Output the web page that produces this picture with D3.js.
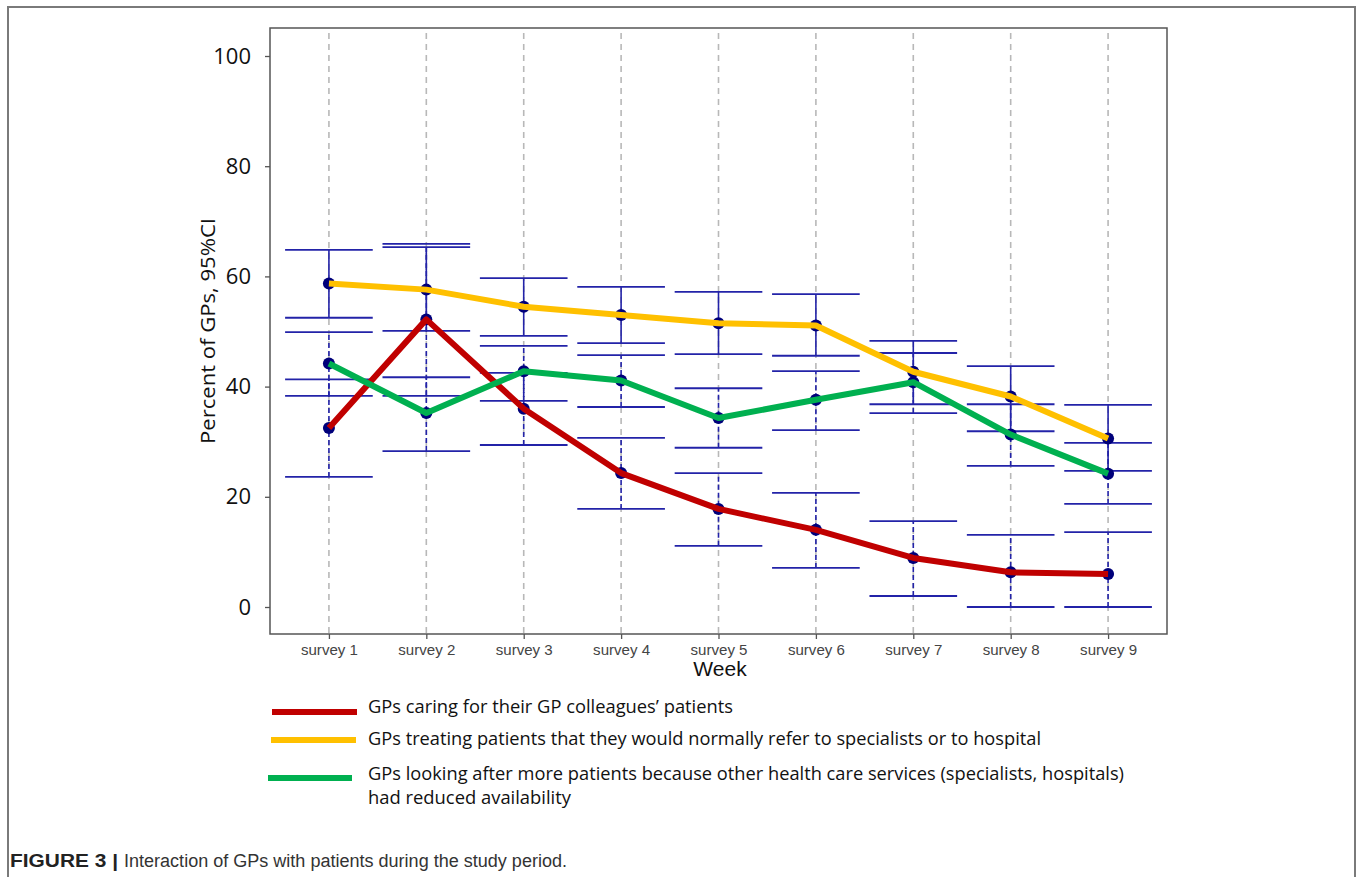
<!DOCTYPE html>
<html>
<head>
<meta charset="utf-8">
<script src="https://cdn.jsdelivr.net/npm/d3@7"></script>
<style>
  body { margin: 0; background: #fff; }
  svg { display: block; }
</style>
</head>
<body>
<svg id="chart"></svg>
<script>
// survey categories
const surveys = ["survey 1", "survey 2", "survey 3", "survey 4", "survey 5", "survey 6", "survey 7", "survey 8", "survey 9"]
const yTicks = [0, 20, 40, 60, 80, 100]

// percent of GPs, with 95% CI bounds
const colleagues = [32.5, 52.2, 36.0, 24.3, 17.8, 14.0, 8.9, 6.3, 6.0]
const colleaguesLow = [23.6, 38.3, 29.4, 17.8, 11.1, 7.1, 2.0, 0, 0]
const colleaguesHigh = [41.3, 65.9, 42.5, 30.7, 24.3, 20.7, 15.6, 13.1, 13.6]

const treating = [58.7, 57.6, 54.5, 53.0, 51.5, 51.1, 42.7, 38.2, 30.6]
const treatingLow = [52.5, 50.1, 49.2, 47.9, 45.9, 45.6, 36.8, 31.9, 24.7]
const treatingHigh = [64.8, 65.3, 59.7, 58.1, 57.2, 56.8, 48.3, 43.7, 36.7]

const lookingAfter = [44.2, 35.2, 42.8, 41.1, 34.3, 37.6, 40.8, 31.3, 24.2]
const lookingAfterLow = [38.3, 28.3, 37.4, 36.3, 28.9, 32.1, 35.2, 25.6, 18.7]
const lookingAfterHigh = [49.9, 41.7, 47.4, 45.7, 39.7, 42.8, 46.1, 36.8, 29.8]

const legendLabels = [
    ["GPs caring for their GP colleagues\u2019 patients"],
    ["GPs treating patients that they would normally refer to specialists or to hospital"],
    ["GPs looking after more patients because other health care services (specialists, hospitals)", "had reduced availability"]
]

const W = 1360, H = 877
const colors = ["#c00000", "#ffc000", "#00b050"]
const navy = "#00007a"
const barBlue = "#2323a8"

const svg = d3.select("#chart").attr("width", W).attr("height", H)

// outer figure frame
svg.append("path")
    .attr("d", "M8,880 V7 H1355 V880")
    .attr("fill", "none")
    .attr("stroke", "#7a7a7a")
    .attr("stroke-width", 2)

const plot = {left: 270, right: 1167, top: 28, bottom: 634}

const x = d3.scalePoint()
    .domain(surveys)
    .range([plot.left, plot.right])
    .padding(0.605)

const y = d3.scaleLinear()
    .domain([0, 100])
    .range([607, 56])

// vertical dashed grid
svg.append("g")
    .selectAll("line")
    .data(surveys)
    .join("line")
    .attr("x1", d => x(d)).attr("x2", d => x(d))
    .attr("y1", plot.top + 5).attr("y2", plot.bottom)
    .attr("stroke", "#b8b8b8")
    .attr("stroke-width", 1.6)
    .attr("stroke-dasharray", "6,5")

const series = [
    {vals: colleagues, lo: colleaguesLow, hi: colleaguesHigh, color: colors[0], dashed: true},
    {vals: treating, lo: treatingLow, hi: treatingHigh, color: colors[1], dashed: false},
    {vals: lookingAfter, lo: lookingAfterLow, hi: lookingAfterHigh, color: colors[2], dashed: true}
]

const half = x.step() * 0.45

// error bars
const eb = svg.append("g")
series.forEach(s => {
    surveys.forEach((d, i) => {
        eb.append("line")
            .attr("x1", x(d)).attr("x2", x(d))
            .attr("y1", y(s.lo[i])).attr("y2", y(s.hi[i]))
            .attr("stroke", barBlue)
            .attr("stroke-width", 1.6)
            .attr("stroke-dasharray", s.dashed ? "5,3" : null)
        ;[s.lo[i], s.hi[i]].forEach(v => {
            eb.append("line")
                .attr("x1", x(d) - half).attr("x2", x(d) + half)
                .attr("y1", y(v)).attr("y2", y(v))
                .attr("stroke", barBlue)
                .attr("stroke-width", 1.8)
        })
    })
})

// points
series.forEach(s => {
    svg.append("g")
        .selectAll("circle")
        .data(s.vals)
        .join("circle")
        .attr("cx", (d, i) => x(surveys[i]))
        .attr("cy", d => y(d))
        .attr("r", 6)
        .attr("fill", navy)
})

const line = d3.line()
    .x((d, i) => x(surveys[i]))
    .y(d => y(d))

series.forEach(s => {
    svg.append("path")
        .datum(s.vals)
        .attr("d", line)
        .attr("fill", "none")
        .attr("stroke", s.color)
        .attr("stroke-width", 6)
        .attr("stroke-linejoin", "round")
})

// plot frame
svg.append("rect")
    .attr("x", plot.left).attr("y", plot.top)
    .attr("width", plot.right - plot.left).attr("height", plot.bottom - plot.top)
    .attr("fill", "none")
    .attr("stroke", "#555")
    .attr("stroke-width", 1.5)

// y axis
const yAxis = svg.append("g")
    .attr("transform", `translate(${plot.left},0)`)
    .call(d3.axisLeft(y).tickValues(yTicks).tickSize(5).tickPadding(14))
yAxis.select(".domain").remove()
yAxis.selectAll(".tick line").attr("stroke", "#555").attr("stroke-width", 1.3)
yAxis.selectAll("text")
    .attr("font-family", "Open Sans, Liberation Sans, sans-serif")
    .attr("font-size", 22)
    .attr("fill", "#111")

// x axis
const xAxis = svg.append("g")
    .attr("transform", `translate(0,${plot.bottom})`)
    .call(d3.axisBottom(x).tickSize(5).tickPadding(5))
xAxis.select(".domain").remove()
xAxis.selectAll(".tick line").attr("stroke", "#555").attr("stroke-width", 1.3)
xAxis.selectAll("text")
    .attr("font-family", "Liberation Sans, sans-serif")
    .attr("font-size", 15)
    .attr("fill", "#444")
    .attr("textLength", 57)
    .attr("lengthAdjust", "spacingAndGlyphs")

svg.append("text")
    .attr("x", 720).attr("y", 676)
    .attr("text-anchor", "middle")
    .attr("font-family", "Liberation Sans, Arial, sans-serif")
    .attr("font-size", 21)
    .attr("fill", "#111")
    .text("Week")

svg.append("text")
    .attr("transform", "translate(215,331) rotate(-90)")
    .attr("text-anchor", "middle")
    .attr("font-family", "Open Sans, Liberation Sans, sans-serif")
    .attr("font-size", 20)
    .attr("fill", "#111")
    .attr("textLength", 226)
    .attr("lengthAdjust", "spacingAndGlyphs")
    .text("Percent of GPs, 95%CI")

// legend
const legendRows = [
    {x1: 272, x2: 357, ly: 712, ty: 713, widths: [365]},
    {x1: 271, x2: 356, ly: 740, ty: 745, widths: [673]},
    {x1: 268, x2: 352, ly: 778, ty: 780, widths: [756, 203]}
]
legendRows.forEach((r, k) => {
    svg.append("line")
        .attr("x1", r.x1).attr("x2", r.x2)
        .attr("y1", r.ly).attr("y2", r.ly)
        .attr("stroke", colors[k])
        .attr("stroke-width", 6)
    legendLabels[k].forEach((t, j) => {
        svg.append("text")
            .attr("x", 368).attr("y", r.ty + j * 24)
            .attr("font-family", "Open Sans, Liberation Sans, sans-serif")
            .attr("font-size", 18)
            .attr("fill", "#111")
            .attr("textLength", r.widths[j])
            .attr("lengthAdjust", "spacingAndGlyphs")
            .text(t)
    })
})

// caption
svg.append("text")
    .attr("x", 10).attr("y", 867)
    .attr("font-family", "Liberation Sans, sans-serif")
    .attr("font-size", 18)
    .attr("font-weight", "bold")
    .attr("fill", "#222")
    .attr("textLength", 108)
    .attr("lengthAdjust", "spacingAndGlyphs")
    .text("FIGURE 3 |")
svg.append("text")
    .attr("x", 124).attr("y", 867)
    .attr("font-family", "Liberation Sans, sans-serif")
    .attr("font-size", 18)
    .attr("fill", "#333")
    .attr("textLength", 443)
    .attr("lengthAdjust", "spacingAndGlyphs")
    .text("Interaction of GPs with patients during the study period.")
</script>
</body>
</html>
